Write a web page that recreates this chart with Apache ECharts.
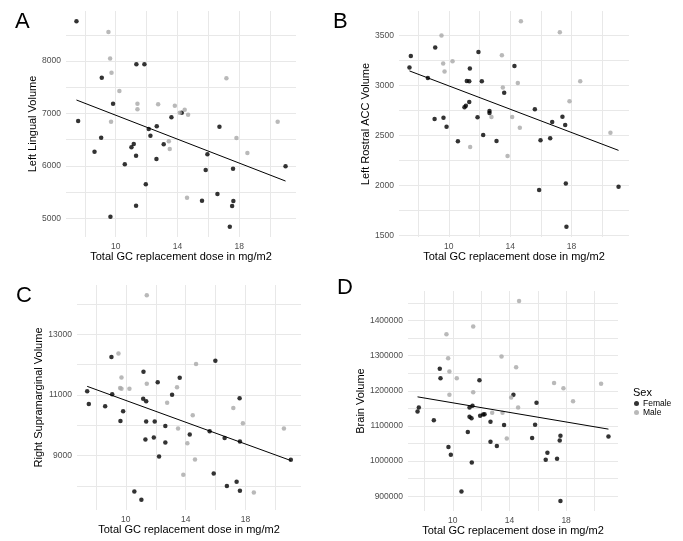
<!DOCTYPE html>
<html>
<head>
<meta charset="utf-8">
<script src="https://cdn.jsdelivr.net/npm/echarts@6/dist/echarts.min.js"></script>
<style>html,body{margin:0;padding:0;background:#fff;}#chart{width:683px;height:541px;}</style>
</head>
<body>
<div id="chart"></div>
<script>
// ---------- DATA ----------
const xTitle = 'Total GC replacement dose in mg/m2';
const xTicks = [8, 10, 12, 14, 16, 18, 20];
const xTickLabels = [10, 14, 18];

// Panel A: Left Lingual Volume
const femaleA = [[7.46,8757],[7.57,6856],[9.10,7682],[9.06,6538],[8.63,6271],[9.83,7186],[9.66,5031],[11.34,7936],[11.86,7936],[10.59,6029],[11.02,6353],[11.17,6417],[11.32,6195],[11.32,5241],[11.95,5648],[12.14,6703],[12.25,6576],[12.66,6754],[12.64,6131],[13.11,6411],[13.61,6926],[14.28,7015],[16.72,6748],[15.94,6220],[15.83,5921],[15.59,5336],[16.59,5463],[17.60,5947],[17.62,5330],[17.54,5235],[17.39,4840],[21.0,5991]];
const maleA = [[9.53,8553],[9.64,8045],[9.73,7777],[9.70,6843],[10.24,7428],[11.41,7186],[11.41,7078],[12.75,7174],[13.83,7148],[14.15,7015],[14.47,7072],[14.69,6976],[13.44,6468],[13.50,6322],[14.62,5394],[17.17,7669],[17.82,6531],[18.53,6245],[20.49,6843]];
const fitA = [[7.46,7256],[21.0,5711]];
const yTicksA = [5000,5500,6000,6500,7000,7500,8000,8500];
const yLabelsA = [5000,6000,7000,8000];

// Panel B: Left Rostral ACC Volume
const femaleB = [[7.52,3297],[7.43,3180],[8.63,3077],[9.11,3380],[9.07,2667],[9.65,2680],[9.85,2590],[11.93,3337],[11.37,3170],[11.17,3047],[11.33,3043],[12.15,3043],[11.33,2837],[11.11,2800],[11.02,2783],[10.59,2443],[11.87,2683],[12.24,2507],[12.65,2747],[12.65,2727],[13.11,2447],[13.61,2930],[14.28,3197],[15.61,2763],[15.98,2453],[15.89,1957],[16.74,2637],[16.61,2473],[17.41,2690],[17.59,2607],[17.63,2023],[17.67,1590],[21.07,1990]];
const maleB = [[9.52,3500],[9.63,3220],[9.72,3140],[10.24,3243],[11.39,2387],[12.78,2687],[13.46,3303],[13.52,2980],[13.83,2297],[14.13,2687],[14.5,3027],[14.63,2580],[14.70,3643],[17.24,3533],[17.87,2843],[18.57,3043],[20.54,2530]];
const fitB = [[7.43,3147],[21.07,2353]];
const yTicksB = [1500,1750,2000,2250,2500,2750,3000,3250,3500];
const yLabelsB = [1500,2000,2500,3000,3500];

// Panel C: Right Supramarginal Volume
const femaleC = [[7.42,11121],[7.53,10703],[8.62,10626],[9.04,12253],[9.09,11022],[9.82,10462],[9.64,10143],[11.18,11769],[11.16,10879],[11.36,10791],[11.36,10121],[11.31,9527],[12.13,11418],[11.93,10121],[11.87,9593],[12.22,8967],[12.64,9978],[12.64,9429],[13.09,11011],[13.6,11571],[14.27,9692],[15.6,9802],[15.98,12132],[16.6,9582],[17.6,10890],[17.62,9462],[10.57,7812],[11.04,7538],[15.87,8405],[16.75,7990],[17.4,8132],[17.62,7835],[21.02,8857]];
const maleC = [[11.4,14297],[9.51,12374],[9.71,11582],[9.62,11231],[9.71,11209],[10.24,11209],[11.4,11374],[13.42,11253],[12.76,10747],[13.49,9890],[14.47,10330],[14.69,12022],[14.11,9407],[14.62,8868],[13.84,8363],[17.18,10571],[17.82,10066],[20.56,9890],[18.55,7779]];
const fitC = [[7.42,11286],[21.02,8835]];
const yTicksC = [8000,9000,10000,11000,12000,13000,14000];
const yLabelsC = [9000,11000,13000];

// Panel D: Brain Volume
const femaleD = [[7.51,1141200],[7.6,1152600],[8.66,1116600],[9.13,1236000],[9.08,1262600],[9.69,1039800],[9.86,1018000],[11.88,1230300],[11.18,1152600],[11.39,1157300],[11.18,1126100],[11.32,1122300],[11.06,1082500],[11.34,996200],[11.93,1129000],[12.14,1132700],[12.24,1133600],[12.66,1111800],[12.66,1055000],[13.11,1042700],[13.62,1102400],[14.28,1188600],[15.91,1165900],[15.81,1103300],[15.6,1065400],[16.68,1023700],[16.56,1003800],[17.36,1006600],[17.6,1072000],[17.55,1058800],[17.6,886300],[10.61,913700],[20.99,1070100]];
const maleD = [[9.55,1361000],[11.44,1383000],[9.67,1292900],[9.76,1255000],[10.28,1236000],[9.76,1188600],[11.44,1196200],[13.44,1297600],[14.47,1267300],[14.68,1455900],[14.12,1181000],[14.61,1152600],[12.78,1137400],[13.51,1137400],[13.81,1064500],[17.15,1222700],[17.81,1207600],[18.49,1170600],[20.47,1219900]];
const fitD = [[7.51,1182900],[20.99,1091000]];
const yTicksD = [900000,950000,1000000,1050000,1100000,1150000,1200000,1250000,1300000,1350000,1400000,1450000];
const yLabelsD = [900000,1000000,1100000,1200000,1300000,1400000];

const legendTitle = 'Sex';
const groups = ['Female', 'Male'];

// ---------- LAYOUT ----------
const FONT = '"Liberation Sans", Arial, Helvetica, sans-serif';
const panels = [
  {letter:'A', yTitle:'Left Lingual Volume', female:femaleA, male:maleA, fit:fitA, yTicks:yTicksA, yLabels:yLabelsA,
   grid:{left:66, top:11, width:230, height:226}, xGap:14, yGap:25, letterPos:[15,22]},
  {letter:'B', yTitle:'Left Rostral ACC Volume', female:femaleB, male:maleB, fit:fitB, yTicks:yTicksB, yLabels:yLabelsB,
   grid:{left:399, top:11, width:230, height:226}, xGap:14, yGap:22, letterPos:[333,22]},
  {letter:'C', yTitle:'Right Supramarginal Volume', female:femaleC, male:maleC, fit:fitC, yTicks:yTicksC, yLabels:yLabelsC,
   grid:{left:77, top:285, width:224, height:225}, xGap:11, yGap:28, letterPos:[16,296]},
  {letter:'D', yTitle:'Brain Volume', female:femaleD, male:maleD, fit:fitD, yTicks:yTicksD, yLabels:yLabelsD,
   grid:{left:408, top:291, width:210, height:220}, xGap:13, yGap:36, letterPos:[337,288]}
];

function expanded(pts, idx) {
  let lo = Infinity, hi = -Infinity;
  pts.forEach(p => { lo = Math.min(lo, p[idx]); hi = Math.max(hi, p[idx]); });
  const pad = (hi - lo) * 0.05;
  return [lo - pad, hi + pad];
}
const plain = v => String(Math.round(v));

const grids = [], xAxes = [], yAxes = [], series = [], graphics = [];
panels.forEach((p, i) => {
  const all = p.female.concat(p.male);
  const xr = expanded(all, 0), yr = expanded(all, 1);
  grids.push(Object.assign({containLabel:false}, p.grid));
  xAxes.push({
    type:'value', gridIndex:i, min:xr[0], max:xr[1],
    axisLine:{show:false}, axisTick:{show:false, customValues:xTicks},
    splitLine:{show:true, lineStyle:{color:'#e8e8e8', width:1}},
    axisLabel:{customValues:xTickLabels, formatter:plain, color:'#4d4d4d', fontSize:8.5, fontFamily:FONT, margin:5},
    name:xTitle, nameLocation:'middle', nameGap:p.xGap,
    nameTextStyle:{color:'#000', fontSize:11, fontFamily:FONT, verticalAlign:'top'}
  });
  yAxes.push({
    type:'value', gridIndex:i, min:yr[0], max:yr[1],
    axisLine:{show:false}, axisTick:{show:false, customValues:p.yTicks},
    splitLine:{show:true, lineStyle:{color:'#e8e8e8', width:1}},
    axisLabel:{customValues:p.yLabels, formatter:plain, color:'#4d4d4d', fontSize:8.5, fontFamily:FONT, margin:5},
    name:p.yTitle, nameLocation:'middle', nameGap:p.yGap, nameRotate:90,
    nameTextStyle:{color:'#000', fontSize:11, fontFamily:FONT}
  });
  series.push({name:groups[0], type:'scatter', xAxisIndex:i, yAxisIndex:i, data:p.female,
    symbolSize:4.5, itemStyle:{color:'#000'}, silent:true});
  series.push({name:groups[1], type:'scatter', xAxisIndex:i, yAxisIndex:i, data:p.male,
    symbolSize:4.5, itemStyle:{color:'#a8a8a8'}, silent:true});
  series.push({name:'fit'+p.letter, type:'line', xAxisIndex:i, yAxisIndex:i, data:p.fit,
    showSymbol:false, symbol:'none', lineStyle:{color:'#000', width:1}, silent:true, z:3});
  graphics.push({type:'text', left:p.letterPos[0], top:p.letterPos[1]-11,
    style:{text:p.letter, font:'22px ' + FONT, fill:'#000'}});
});
graphics.push({type:'text', left:633, top:387, style:{text:legendTitle, font:'11px ' + FONT, fill:'#000'}});

const chart = echarts.init(document.getElementById('chart'), null, {renderer:'canvas'});
chart.setOption({
  animation:false,
  backgroundColor:'#fff',
  grid:grids, xAxis:xAxes, yAxis:yAxes, series:series,
  legend:{data:groups, left:634, top:399, orient:'vertical', itemWidth:5, itemHeight:5, itemGap:0,
    padding:0, icon:'circle', selectedMode:false,
    textStyle:{fontSize:8.5, fontFamily:FONT, color:'#000', lineHeight:8, padding:[0,0,0,-1]}},
  graphic:graphics
});
</script>
</body>
</html>
